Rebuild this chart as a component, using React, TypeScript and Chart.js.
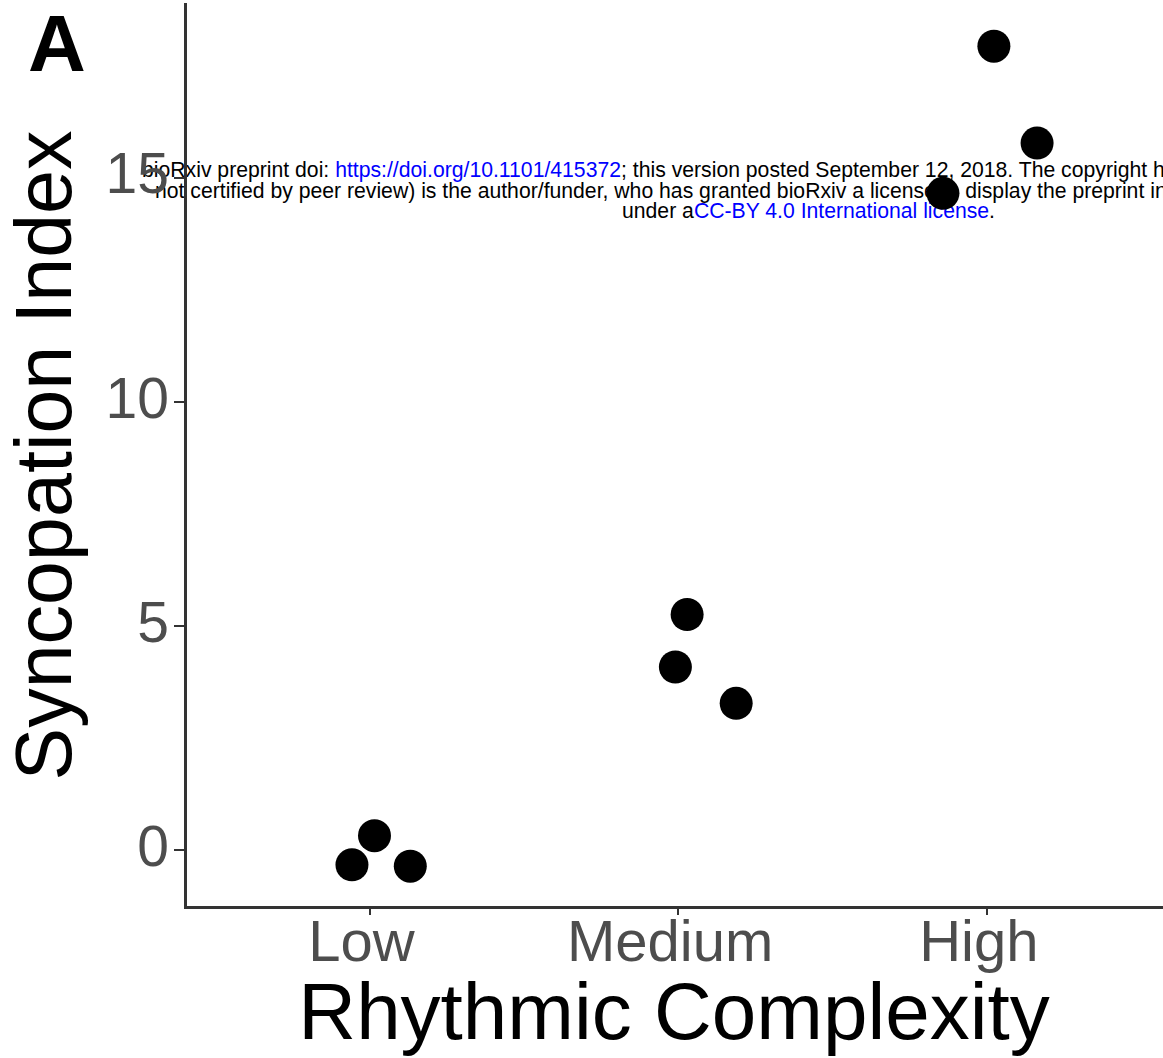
import React, { useEffect, useRef } from "react";
import { Chart, registerables } from "chart.js";

Chart.register(...registerables);

// ---- data ----
const categories = ["Low", "Medium", "High"];
const pointCategory = [0, 0, 0, 1, 1, 1, 2, 2, 2];
const pointJitter = [-0.057, 0.016, 0.132, -0.009, 0.029, 0.188, 0.023, 0.163, -0.142];
const syncopationIndex = [-0.32, 0.33, -0.35, 4.09, 5.26, 3.28, 17.93, 15.77, 14.65];
const yTicks = [0, 5, 10, 15];
const xTitle = "Rhythmic Complexity";
const yTitle = "Syncopation Index";
const panelLabel = "A";

const W = 1163;
const H = 1058;
const FONT = "'Liberation Sans', Arial, Helvetica, sans-serif";

export default function App() {
  const canvasRef = useRef<HTMLCanvasElement | null>(null);

  useEffect(() => {
    const canvas = canvasRef.current;
    if (!canvas) return;
    const points = syncopationIndex.map((y, i) => ({
      x: pointCategory[i] + pointJitter[i],
      y,
    }));
    const chart = new Chart(canvas, {
      type: "scatter",
      data: {
        datasets: [
          {
            data: points,
            backgroundColor: "#000000",
            borderWidth: 0,
            pointRadius: 16.5,
            pointHoverRadius: 16.5,
          },
        ],
      },
      options: {
        animation: false,
        responsive: false,
        devicePixelRatio: 1,
        events: [],
        layout: { autoPadding: false, padding: { top: 4, right: 0, bottom: 0, left: 0 } },
        plugins: {
          legend: { display: false },
          tooltip: { enabled: false },
        },
        scales: {
          x: {
            type: "linear",
            min: -0.598,
            max: 2.571,
            afterFit: (s: any) => {
              s.height = 151;
              s.paddingLeft = 0;
              s.paddingRight = 0;
            },
            afterBuildTicks: (s: any) => {
              s.ticks = categories.map((_, i) => ({ value: i }));
            },
            border: { display: true, color: "#333333", width: 3 },
            grid: {
              drawOnChartArea: false,
              drawTicks: true,
              tickLength: 8,
              tickColor: "#333333",
              lineWidth: 2,
            },
            ticks: {
              color: "#4d4d4d",
              padding: 1,
              labelOffset: -8,
              maxRotation: 0,
              autoSkip: false,
              font: { family: FONT, size: 58, lineHeight: 1 },
              callback: (v: any) => categories[Math.round(Number(v))] ?? "",
            },
            title: {
              display: true,
              text: xTitle,
              color: "#000000",
              padding: { top: 0, bottom: 1 },
              font: { family: FONT, size: 80, lineHeight: 1 },
            },
          },
          y: {
            type: "linear",
            min: -1.26,
            max: 18.87,
            afterFit: (s: any) => {
              s.width = 185;
              s.paddingTop = 0;
              s.paddingBottom = 0;
            },
            afterBuildTicks: (s: any) => {
              s.ticks = yTicks.map((v) => ({ value: v }));
            },
            border: { display: true, color: "#333333", width: 3 },
            grid: {
              drawOnChartArea: false,
              drawTicks: true,
              tickLength: 11,
              tickColor: "#333333",
              lineWidth: 2,
            },
            ticks: {
              color: "#4d4d4d",
              padding: 5,
              autoSkip: false,
              font: { family: FONT, size: 57, lineHeight: 1 },
              callback: (v: any) => String(v),
            },
            title: {
              display: true,
              text: yTitle,
              color: "#000000",
              padding: { top: 10, bottom: 0 },
              font: { family: FONT, size: 79, lineHeight: 1 },
            },
          },
        },
      },
    });
    return () => chart.destroy();
  }, []);

  const wmStyle: React.CSSProperties = {
    position: "absolute",
    whiteSpace: "nowrap",
    fontFamily: FONT,
    fontSize: 21.2,
    lineHeight: "21px",
    color: "#000000",
    zIndex: 0,
  };
  const blue: React.CSSProperties = { color: "#0000ff" };

  return (
    <div
      style={{
        position: "absolute",
        left: 0,
        top: 0,
        width: W,
        height: H,
        overflow: "hidden",
        background: "#ffffff",
      }}
    >
      <div style={{ ...wmStyle, left: 142, top: 159 }}>
        bioRxiv preprint doi: <span style={blue}>https://doi.org/10.1101/415372</span>; this version posted September 12, 2018. The copyright holder for this preprint (which was
      </div>
      <div style={{ ...wmStyle, left: 155, top: 180 }}>
        not certified by peer review) is the author/funder, who has granted bioRxiv a license to display the preprint in perpetuity. It is made available
      </div>
      <div style={{ ...wmStyle, left: 622, top: 200 }}>
        under a<span style={blue}>CC-BY 4.0 International license</span>.
      </div>
      <canvas
        ref={canvasRef}
        width={W}
        height={H}
        style={{ position: "absolute", left: 0, top: 0, width: W, height: H, zIndex: 1 }}
      />
      <div
        style={{
          position: "absolute",
          left: 28,
          top: 4,
          fontFamily: FONT,
          fontWeight: "bold",
          fontSize: 80,
          lineHeight: "80px",
          color: "#000000",
          zIndex: 2,
        }}
      >
        {panelLabel}
      </div>
    </div>
  );
}
